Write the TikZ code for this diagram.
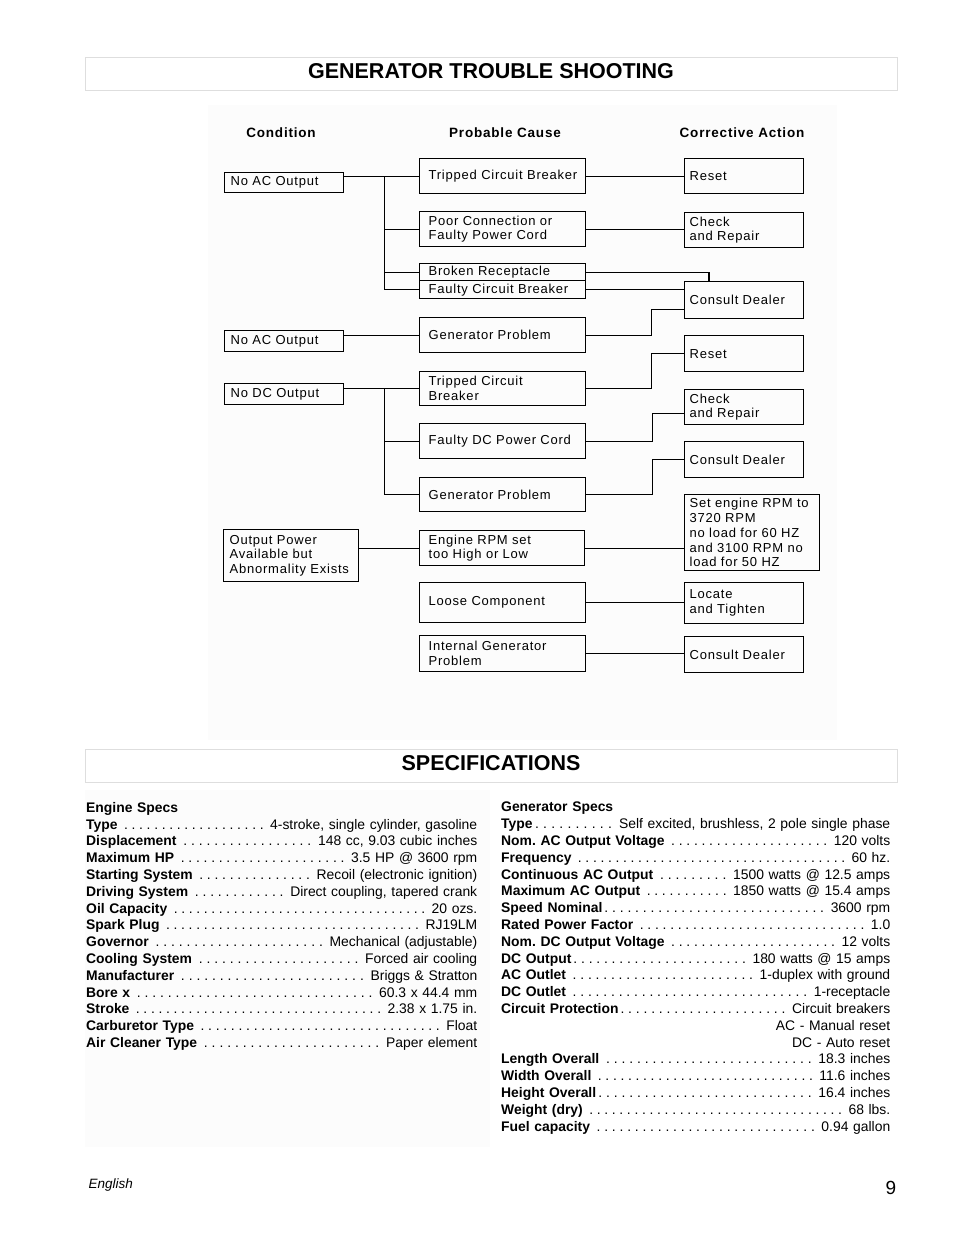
\documentclass[tikz,border=0pt]{standalone}
\usepackage{fontspec}
\setmainfont{Liberation Sans}
\newfontfamily\chartfont[LetterSpace=6]{Liberation Sans}
\usepackage{tikz}
\usetikzlibrary{positioning, calc}

\newcommand\specdots{\xleaders\hbox to 7.5pt{\hss.\hss}\hfill}

\begin{document}
\frenchspacing
\begin{tikzpicture}[
  x=1pt, y=-1pt,
  chartbox/.style 2 args={draw, line width=1.3pt, anchor=north west, inner ysep=0pt,
              text width=#1-2*\pgfkeysvalueof{/pgf/inner xsep}, minimum width=#1,
              minimum height=#2, align=left, font=\chartfont\fontsize{13}{14.7}\selectfont},
  condbox/.style 2 args={inner xsep=6pt, chartbox={#1}{#2}},
  causebox/.style 2 args={inner xsep=9pt, chartbox={#1}{#2}},
  actbox/.style 2 args={inner xsep=5pt, chartbox={#1}{#2}},
  head/.style={font=\chartfont\bfseries\fontsize{13.5}{16}\selectfont},
  conn/.style={line width=1.2pt},
  titlebox/.style={draw=black!13, line width=1pt, minimum width=812pt, minimum height=33pt},
  titletext/.style={font=\bfseries\fontsize{21.5}{24}\selectfont, yshift=2.5pt},
  speccol/.style={anchor=north west, inner sep=0pt, align=left,
              font=\fontsize{13.9}{16.8}\selectfont}
]
  \useasboundingbox (0,0) rectangle (954,1235);

  % faint scan backgrounds
  \fill[black!1] (208,105) rectangle (837,740);
  \fill[black!1] (85,790) rectangle (490,1147);

  % Titles
  \node[titlebox] (ttrouble) at (491,73.5) {};
  \node[titletext] at (ttrouble.center) (ttroubletext) {GENERATOR TROUBLE SHOOTING};
  \node[titlebox] (tspecs) at (491,765.5) {};
  \node[titletext] at (tspecs.center) (tspecstext) {SPECIFICATIONS};

  % Column heads
  \node[head] (hcond) at (281,133) {Condition};
  \node[head] (hcause) at (505,133) {Probable Cause};
  \node[head] (hact) at (742,133) {Corrective Action};

  % Condition
  \node[condbox={119pt}{20pt}] (c1) at (224,172) {No AC Output};
  \node[condbox={119pt}{21pt}] (c2) at (224,330) {No AC Output};
  \node[condbox={119pt}{21pt}] (c3) at (224,383) {No DC Output};
  \node[condbox={135pt}{52pt}] (c4) at (223,529) {Output Power\\Available but\\Abnormality Exists};

  % Probable cause
  \node[causebox={166pt}{35pt}] (p1) at (419,158) {Tripped Circuit Breaker};
  \node[causebox={166pt}{35pt}] (p2) at (419,211) {Poor Connection or\\Faulty Power Cord};
  \node[causebox={166pt}{17pt}] (p3a) at (419,263) {Broken Receptacle};
  \node[causebox={166pt}{18pt}] (p3b) at (419,280) {Faulty Circuit Breaker};
  \node[causebox={166pt}{35pt}] (p4) at (419,317) {Generator Problem};
  \node[causebox={166pt}{34pt}] (p5) at (419,371) {Tripped Circuit\\Breaker};
  \node[causebox={166pt}{35pt}] (p6) at (419,423) {Faulty DC Power Cord};
  \node[causebox={166pt}{34pt}] (p7) at (419,477) {Generator Problem};
  \node[causebox={165pt}{35pt}] (p8) at (419,530) {Engine RPM set\\too High or Low};
  \node[causebox={166pt}{40pt}] (p9) at (419,582) {Loose Component};
  \node[causebox={166pt}{36pt}] (p10) at (419,635) {Internal Generator\\Problem};

  % Corrective action
  \node[actbox={119pt}{35pt}] (a1) at (684,158) {Reset};
  \node[actbox={119pt}{35pt}] (a2) at (684,212) {Check\\and Repair};
  \node[actbox={119pt}{37pt}] (a3) at (684,281) {Consult Dealer};
  \node[actbox={119pt}{36pt}] (a4) at (684,335) {Reset};
  \node[actbox={119pt}{35pt}] (a5) at (684,389) {Check\\and Repair};
  \node[actbox={119pt}{36pt}] (a6) at (684,441) {Consult Dealer};
  \node[actbox={135pt}{76pt}] (a7) at (684,494) {Set engine RPM to\\3720 RPM\\no load for 60 HZ\\and 3100 RPM no\\load for 50 HZ};
  \node[actbox={119pt}{41pt}] (a8) at (684,582) {Locate\\and Tighten};
  \node[actbox={119pt}{36pt}] (a9) at (684,636) {Consult Dealer};

  % Condition -> cause
  \coordinate (jac) at ($(c1.east |- p1.west)+(40,0)$);
  \coordinate (jdc) at ($(c3.east |- p5.west)+(40,0)$);
  \draw[conn] (c1.east |- p1.west) -- (p1.west);
  \draw[conn] (jac) |- (p2.west);
  \draw[conn] (jac) |- (p3a.west);
  \draw[conn] (jac) |- (p3b.west);
  \draw[conn] (c2.east |- p4.west) -- (p4.west);
  \draw[conn] (c3.east |- p5.west) -- (p5.west);
  \draw[conn] (jdc) |- (p6.west);
  \draw[conn] (jdc) |- (p7.west);
  \draw[conn] (c4.east |- p8.west) -- (p8.west);

  % Cause -> action
  \draw[conn] (p1.east) -- (p1.east -| a1.west);
  \draw[conn] (p2.east) -- (p2.east -| a2.west);
  \draw[conn] (p3a.east) -| ([xshift=25pt]a3.north west);
  \draw[conn] (p3b.east) -- (p3b.east -| a3.west);
  \draw[conn] (p4.east) -- ++(65,0) |- ([yshift=10pt]a3.south west);
  \draw[conn] (p5.east) -- ++(65,0) |- (a4.west);
  \draw[conn] (p6.east) -- ++(66,0) |- ([yshift=-6pt]a5.west);
  \draw[conn] (p7.east) -- ++(66,0) |- (a6.west);
  \draw[conn] (p8.east) -- (p8.east -| a7.west);
  \draw[conn] (p9.east) -- (p9.east -| a8.west);
  \draw[conn] (p10.east) -- (p10.east -| a9.west);

  % Specifications
  \node[speccol, text width=391pt] (engspecs) at (86,802) {%
    \textbf{Engine Specs}\\
    \textbf{Type} \specdots\ 4-stroke, single cylinder, gasoline\\
    \textbf{Displacement} \specdots\ 148 cc, 9.03 cubic inches\\
    \textbf{Maximum HP} \specdots\ 3.5 HP @ 3600 rpm\\
    \textbf{Starting System} \specdots\ Recoil (electronic ignition)\\
    \textbf{Driving System} \specdots\ Direct coupling, tapered crank\\
    \textbf{Oil Capacity} \specdots\ 20 ozs.\\
    \textbf{Spark Plug} \specdots\ RJ19LM\\
    \textbf{Governor} \specdots\ Mechanical (adjustable)\\
    \textbf{Cooling System} \specdots\ Forced air cooling\\
    \textbf{Manufacturer} \specdots\ Briggs \& Stratton\\
    \textbf{Bore x} \specdots\ 60.3 x 44.4 mm\\
    \textbf{Stroke} \specdots\ 2.38 x 1.75 in.\\
    \textbf{Carburetor Type} \specdots\ Float\\
    \textbf{Air Cleaner Type} \specdots\ Paper element};
  \node[speccol, text width=389pt] (genspecs) at (501,802) {%
    \textbf{Generator Specs}\\
    \textbf{Type}\specdots\ Self excited, brushless, 2 pole single phase\\
    \textbf{Nom. AC Output Voltage} \specdots\ 120 volts\\
    \textbf{Frequency} \specdots\ 60 hz.\\
    \textbf{Continuous AC Output} \specdots\ 1500 watts @ 12.5 amps\\
    \textbf{Maximum AC Output} \specdots\ 1850 watts @ 15.4 amps\\
    \textbf{Speed Nominal}\specdots\ 3600 rpm\\
    \textbf{Rated Power Factor} \specdots\ 1.0\\
    \textbf{Nom. DC Output Voltage} \specdots\ 12 volts\\
    \textbf{DC Output}\specdots\ 180 watts @ 15 amps\\
    \textbf{AC Outlet} \specdots\ 1-duplex with ground\\
    \textbf{DC Outlet} \specdots\ 1-receptacle\\
    \textbf{Circuit Protection}\specdots\ Circuit breakers\\
    \mbox{}\hfill AC - Manual reset\hspace{2pt}\\
    \mbox{}\hfill DC - Auto reset\hspace{2pt}\\
    \textbf{Length Overall} \specdots\ 18.3 inches\\
    \textbf{Width Overall} \specdots\ 11.6 inches\\
    \textbf{Height Overall}\specdots\ 16.4 inches\\
    \textbf{Weight (dry)} \specdots\ 68 lbs.\\
    \textbf{Fuel capacity} \specdots\ 0.94 gallon};

  % Footer
  \node[anchor=west, font=\itshape\fontsize{13.5}{16}\selectfont] (lang) at (85,1185) {English};
  \node[font=\fontsize{19}{22}\selectfont] (pagenum) at (891,1188) {9};
\end{tikzpicture}
\end{document}
